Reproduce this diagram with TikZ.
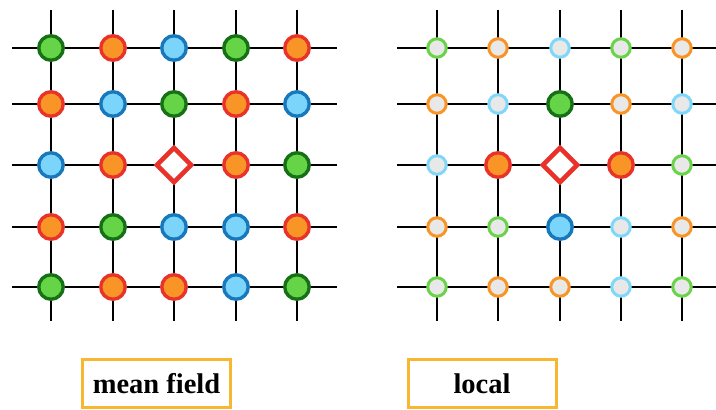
\documentclass[tikz,border=0pt]{standalone}
\usepackage{fontspec}
\setmainfont{Liberation Serif}
\usetikzlibrary{shapes.geometric}
\definecolor{gfill}{HTML}{66D447}
\definecolor{gdark}{HTML}{167016}
\definecolor{ofill}{HTML}{F99426}
\definecolor{rdark}{HTML}{E8322A}
\definecolor{bfill}{HTML}{7BD4FA}
\definecolor{bdark}{HTML}{1878BC}
\definecolor{greyfill}{HTML}{E8E8E8}
\definecolor{gring}{HTML}{6BD34A}
\definecolor{oring}{HTML}{F99426}
\definecolor{bring}{HTML}{80D8F8}
\definecolor{boxline}{HTML}{F7B731}
\tikzset{
  gridline/.style={line width=2.2pt, black},
  bigdot/.style={circle, minimum size=24.5pt, inner sep=0pt, line width=3.4pt},
  Gb/.style={bigdot, draw=gdark, fill=gfill},
  Ob/.style={bigdot, draw=rdark, fill=ofill},
  Bb/.style={bigdot, draw=bdark, fill=bfill},
  smalldot/.style={circle, minimum size=18.5pt, inner sep=0pt, line width=3pt, fill=greyfill},
  gs/.style={smalldot, draw=gring},
  os/.style={smalldot, draw=oring},
  bs/.style={smalldot, draw=bring},
  centre/.style={diamond, minimum size=36pt, inner sep=0pt, line width=4.6pt, draw=rdark, fill=white},
  labelbox/.style={draw=boxline, line width=3pt, minimum width=148pt, minimum height=48pt, inner sep=0pt, font=\fontsize{28.5}{31}\selectfont\bfseries},
}
\begin{document}
\begin{tikzpicture}[x=1pt,y=-1pt]
\useasboundingbox (0,0) rectangle (716,410);
% grid lines left
\foreach \x in {51,113,174,236,297} \draw[gridline] (\x,10) -- (\x,321);
\foreach \y in {48,104,165,227,287} \draw[gridline] (12,\y) -- (337,\y);
% grid lines right
\foreach \x in {437,498,560,621,682} \draw[gridline] (\x,10) -- (\x,321);
\foreach \y in {48,104,165,227,287} \draw[gridline] (397,\y) -- (716,\y);
% left lattice
\def\ya{48}\def\yb{104}\def\yc{165}\def\yd{227}\def\ye{287}
\def\xa{51}\def\xb{113}\def\xc{174}\def\xd{236}\def\xe{297}
\node[Gb] (L11) at (\xa,\ya) {};
\node[Ob] (L12) at (\xb,\ya) {};
\node[Bb] (L13) at (\xc,\ya) {};
\node[Gb] (L14) at (\xd,\ya) {};
\node[Ob] (L15) at (\xe,\ya) {};
\node[Ob] (L21) at (\xa,\yb) {};
\node[Bb] (L22) at (\xb,\yb) {};
\node[Gb] (L23) at (\xc,\yb) {};
\node[Ob] (L24) at (\xd,\yb) {};
\node[Bb] (L25) at (\xe,\yb) {};
\node[Bb] (L31) at (\xa,\yc) {};
\node[Ob] (L32) at (\xb,\yc) {};
\node[centre] (L33) at (\xc,\yc) {};
\node[Ob] (L34) at (\xd,\yc) {};
\node[Gb] (L35) at (\xe,\yc) {};
\node[Ob] (L41) at (\xa,\yd) {};
\node[Gb] (L42) at (\xb,\yd) {};
\node[Bb] (L43) at (\xc,\yd) {};
\node[Bb] (L44) at (\xd,\yd) {};
\node[Ob] (L45) at (\xe,\yd) {};
\node[Gb] (L51) at (\xa,\ye) {};
\node[Ob] (L52) at (\xb,\ye) {};
\node[Ob] (L53) at (\xc,\ye) {};
\node[Bb] (L54) at (\xd,\ye) {};
\node[Gb] (L55) at (\xe,\ye) {};
% right lattice
\def\xa{437}\def\xb{498}\def\xc{560}\def\xd{621}\def\xe{682}
\node[gs] (R11) at (\xa,\ya) {};
\node[os] (R12) at (\xb,\ya) {};
\node[bs] (R13) at (\xc,\ya) {};
\node[gs] (R14) at (\xd,\ya) {};
\node[os] (R15) at (\xe,\ya) {};
\node[os] (R21) at (\xa,\yb) {};
\node[bs] (R22) at (\xb,\yb) {};
\node[Gb] (R23) at (\xc,\yb) {};
\node[os] (R24) at (\xd,\yb) {};
\node[bs] (R25) at (\xe,\yb) {};
\node[bs] (R31) at (\xa,\yc) {};
\node[Ob] (R32) at (\xb,\yc) {};
\node[centre] (R33) at (\xc,\yc) {};
\node[Ob] (R34) at (\xd,\yc) {};
\node[gs] (R35) at (\xe,\yc) {};
\node[os] (R41) at (\xa,\yd) {};
\node[gs] (R42) at (\xb,\yd) {};
\node[Bb] (R43) at (\xc,\yd) {};
\node[bs] (R44) at (\xd,\yd) {};
\node[os] (R45) at (\xe,\yd) {};
\node[gs] (R51) at (\xa,\ye) {};
\node[os] (R52) at (\xb,\ye) {};
\node[os] (R53) at (\xc,\ye) {};
\node[bs] (R54) at (\xd,\ye) {};
\node[gs] (R55) at (\xe,\ye) {};
% labels
\node[labelbox] (mf) at (156.5,383.5) {mean field};
\node[labelbox] (loc) at (482,383.5) {local};
\end{tikzpicture}
\end{document}
